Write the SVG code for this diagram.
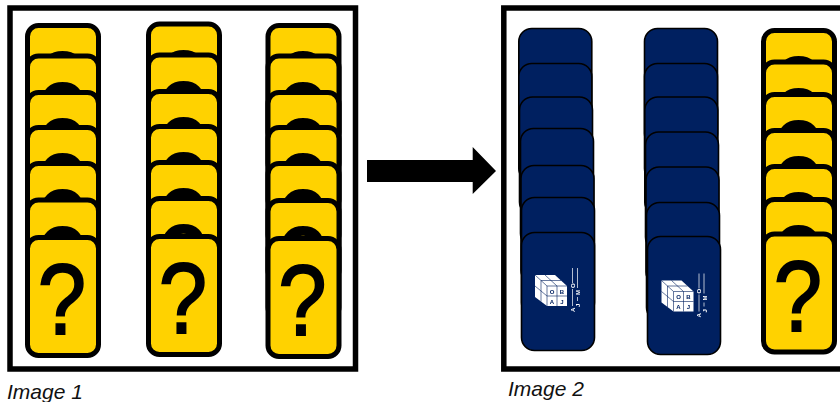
<svg xmlns="http://www.w3.org/2000/svg" width="840" height="402" viewBox="0 0 840 402">
<style>
.frame{fill:#fff;stroke:#000;stroke-width:5.5}
.yr{fill:#ffd200;stroke:#000;stroke-width:5}
.yt{font-family:"Liberation Sans",Arial,sans-serif;font-size:101px;text-anchor:middle;fill:#000;stroke:#000;stroke-width:2;filter:url(#soft)}
.nr{fill:#002060;stroke:#000;stroke-width:1.6}
.cap{font-family:"Liberation Sans",Arial,sans-serif;font-style:italic;font-size:21px;fill:#111}
.cube text{font-family:"Liberation Sans",Arial,sans-serif;font-size:6px;font-weight:bold;text-anchor:middle;fill:#002060}
.cube line{stroke:#002060;stroke-width:.6}
.tag text{font-family:"Liberation Sans",Arial,sans-serif;font-size:6px;font-weight:bold;fill:#fff}
.tag line{stroke:#fff;stroke-width:1;opacity:.7}
.lg{filter:url(#soft2)}
</style>
<defs>
<filter id="soft" x="-10%" y="-10%" width="120%" height="120%"><feGaussianBlur stdDeviation="0.7"/></filter>
<filter id="soft2" x="-10%" y="-10%" width="120%" height="120%"><feGaussianBlur stdDeviation="0.35"/></filter>
<g id="card"><rect class="yr" width="71" height="118" rx="11"/><text class="yt" transform="translate(34.5,96.5) scale(.86,1)">?</text></g>
<g id="back"><rect class="nr" width="73" height="118" rx="13"/></g>
<g id="logo" class="lg">
<polygon points="0,0 20,0 32,11 32,31 12,31 0,22" fill="#fff"/>
<g class="cube">
<line x1="12" y1="11" x2="32" y2="11"/><line x1="12" y1="11" x2="12" y2="31"/><line x1="0" y1="0" x2="12" y2="11"/>
<line x1="22" y1="11" x2="22" y2="31"/><line x1="12" y1="21" x2="32" y2="21"/>
<line x1="6" y1="5.500" x2="6" y2="26.500"/><line x1="0" y1="11" x2="12" y2="21"/>
<line x1="10" y1="0" x2="22" y2="11"/><line x1="6" y1="5.500" x2="26" y2="5.500"/>
<text x="17" y="18.500">O</text><text x="27" y="18.500">B</text><text x="17" y="28.500">A</text><text x="27" y="28.500">J</text>
</g>
<g class="tag">
<text transform="translate(39.500,37) rotate(-90)">A</text>
<text transform="translate(39.500,13) rotate(-90)">O</text>
<text transform="translate(45,20) rotate(-90)">M</text>
<text transform="translate(45,32) rotate(-90)" font-size="5">J</text>
<line x1="37.500" y1="-7" x2="37.500" y2="8"/><line x1="42.500" y1="-7" x2="42.500" y2="13"/>
<line x1="37.500" y1="14" x2="37.500" y2="31"/><line x1="42.500" y1="22" x2="42.500" y2="26"/>
</g>
</g>
</defs>

<g id="frame-1"><rect class="frame" x="10" y="8" width="345.500" height="361"/></g>
<g id="frame-2"><rect class="frame" x="503.800" y="8" width="346" height="361"/></g>

<g id="image-1-col-1">
<g id="a1"><use href="#card" x="27.500" y="25.500"/></g>
<g id="a2"><use href="#card" x="27.500" y="56"/></g>
<g id="a3"><use href="#card" x="27.500" y="92.500"/></g>
<g id="a4"><use href="#card" x="27.500" y="127.500"/></g>
<g id="a5"><use href="#card" x="27.500" y="163.500"/></g>
<g id="a6"><use href="#card" x="27.500" y="200"/></g>
<g id="a7"><use href="#card" x="27.500" y="237.500"/></g>
</g>
<g id="image-1-col-2">
<g id="b1"><use href="#card" x="148.500" y="24"/></g>
<g id="b2"><use href="#card" x="148.500" y="55"/></g>
<g id="b3"><use href="#card" x="148.500" y="91.500"/></g>
<g id="b4"><use href="#card" x="148.500" y="126.500"/></g>
<g id="b5"><use href="#card" x="148.500" y="162.500"/></g>
<g id="b6"><use href="#card" x="148.500" y="198.500"/></g>
<g id="b7"><use href="#card" x="148.500" y="236.500"/></g>
</g>
<g id="image-1-col-3">
<g id="c1"><use href="#card" x="268" y="25.500"/></g>
<g id="c2"><use href="#card" x="268" y="56"/></g>
<g id="c3"><use href="#card" x="268" y="92.500"/></g>
<g id="c4"><use href="#card" x="268" y="127.500"/></g>
<g id="c5"><use href="#card" x="268" y="163.500"/></g>
<g id="c6"><use href="#card" x="268" y="200.500"/></g>
<g id="c7"><use href="#card" x="268" y="238.500"/></g>
</g>

<g id="image-2-col-1">
<g id="d1"><use href="#back" x="518.800" y="28.500"/></g>
<g id="d2"><use href="#back" x="518.800" y="63.500"/></g>
<g id="d3"><use href="#back" x="519.500" y="97"/></g>
<g id="d4"><use href="#back" x="520.500" y="128.500"/></g>
<g id="d5"><use href="#back" x="521" y="165.500"/></g>
<g id="d6"><use href="#back" x="521.500" y="197.500"/></g>
<g id="d7"><use href="#back" x="521.500" y="232.500"/><use href="#logo" x="535" y="275"/></g>
</g>
<g id="image-2-col-2">
<g id="e1"><use href="#back" x="644.500" y="28.500"/></g>
<g id="e2"><use href="#back" x="644.500" y="63.500"/></g>
<g id="e3"><use href="#back" x="644.800" y="97"/></g>
<g id="e4"><use href="#back" x="645.500" y="132"/></g>
<g id="e5"><use href="#back" x="646" y="167"/></g>
<g id="e6"><use href="#back" x="646.500" y="202.500"/></g>
<g id="e7"><use href="#back" x="647.500" y="236.500"/><use href="#logo" x="661.500" y="280.500"/></g>
</g>
<g id="image-2-col-3">
<g id="f1"><use href="#card" x="763.500" y="30.500"/></g>
<g id="f2"><use href="#card" x="763.500" y="62"/></g>
<g id="f3"><use href="#card" x="763.500" y="94.500"/></g>
<g id="f4"><use href="#card" x="763.500" y="130.500"/></g>
<g id="f5"><use href="#card" x="763.500" y="166.500"/></g>
<g id="f6"><use href="#card" x="763.500" y="199.500"/></g>
<g id="f7"><use href="#card" x="763.500" y="234"/></g>
</g>

<g id="connectors">
<polygon points="367,160 472.700,160 472.700,147 496,171 472.700,194 472.700,182 367,182" fill="#000"/>
</g>

<text class="cap" x="7" y="399">Image 1</text>
<text class="cap" x="508" y="395.500">Image 2</text>
</svg>
